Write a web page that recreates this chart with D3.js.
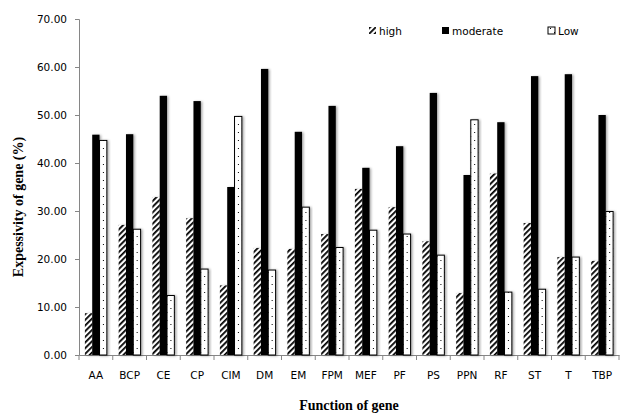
<!DOCTYPE html>
<html>
<head>
<meta charset="utf-8">
<script src="https://cdn.jsdelivr.net/npm/d3@7"></script>
<style>
  body { margin: 0; background: #fff; }
  .tick text { font-family: "DejaVu Sans", Verdana, sans-serif; font-size: 10.5px; fill: #000; }
  .legend text { font-family: "DejaVu Sans", Verdana, sans-serif; font-size: 10.5px; }
  .title { font-family: "Liberation Serif", "Times New Roman", serif; font-weight: bold; font-size: 14px; }
</style>
</head>
<body>
<script>
let categories = ['AA', 'BCP', 'CE', 'CP', 'CIM', 'DM', 'EM', 'FPM', 'MEF', 'PF', 'PS', 'PPN', 'RF', 'ST', 'T', 'TBP']
let seriesNames = ['high', 'moderate', 'Low']
let high = [8.7, 27.1, 32.9, 28.5, 14.5, 22.3, 22.1, 25.2, 34.6, 30.8, 23.7, 12.9, 37.8, 27.5, 20.4, 19.6]
let moderate = [45.9, 46.0, 54.0, 52.9, 35.0, 59.6, 46.5, 51.9, 39.0, 43.5, 54.6, 37.5, 48.5, 58.1, 58.5, 50.0]
let low = [44.7, 26.2, 12.4, 17.9, 49.7, 17.7, 30.8, 22.4, 26.0, 25.2, 20.8, 49.0, 13.1, 13.7, 20.4, 29.9]
let yTicks = [0, 10, 20, 30, 40, 50, 60, 70]

let margin = { top: 19, bottom: 64, left: 79, right: 5 }
let width = 624 - margin.left - margin.right
let height = 419 - margin.top - margin.bottom

let svg = d3.select('body')
    .append('svg')
        .attr('width', 624)
        .attr('height', 419)

let defs = svg.append('defs')

// diagonal hatch for "high"
let hatch = defs.append('pattern')
    .attr('id', 'hatch')
    .attr('patternUnits', 'userSpaceOnUse')
    .attr('width', 4)
    .attr('height', 4)
    .attr('patternTransform', 'rotate(45)')
hatch.append('rect').attr('width', 4).attr('height', 4).attr('fill', 'white')
hatch.append('rect').attr('x', 0).attr('width', 1.8).attr('height', 4).attr('fill', 'black')

// sparse dots for "Low"
let dots = defs.append('pattern')
    .attr('id', 'dots')
    .attr('patternUnits', 'userSpaceOnUse')
    .attr('width', 8)
    .attr('height', 8)
dots.append('rect').attr('width', 8).attr('height', 8).attr('fill', 'white')
dots.append('rect').attr('x', 2).attr('y', 1).attr('width', 1).attr('height', 1).attr('fill', 'black')
dots.append('rect').attr('x', 6).attr('y', 5).attr('width', 1).attr('height', 1).attr('fill', 'black')

defs.append('filter')
    .attr('id', 'shadow')
    .attr('x', '-50%').attr('y', '-10%').attr('width', '200%').attr('height', '120%')
  .append('feDropShadow')
    .attr('dx', 1.5).attr('dy', 0.5)
    .attr('stdDeviation', 0.8)
    .attr('flood-color', '#000')
    .attr('flood-opacity', 0.35)

let g = svg.append('g')
    .attr('transform', 'translate(' + margin.left + ',' + margin.top + ')')

let x0 = d3.scaleBand()
    .domain(categories)
    .range([0, width])
    .paddingInner(0.35)
    .paddingOuter(0.175)

let x1 = d3.scaleBand()
    .domain(seriesNames)
    .range([0, x0.bandwidth()])

let y = d3.scaleLinear()
    .domain([0, 70])
    .range([height, 0])

let fills = { high: 'url(#hatch)', moderate: 'black', Low: 'url(#dots)' }
let values = { high: high, moderate: moderate, Low: low }

let rows = categories.map((c, i) => ({
    cat: c,
    bars: seriesNames.map(s => ({ key: s, value: values[s][i] }))
}))

// y axis
let yAxis = g.append('g')
    .call(d3.axisLeft(y).tickValues(yTicks).tickFormat(d3.format('.2f')).tickSize(4).tickPadding(8))
yAxis.selectAll('path, line').attr('stroke', '#868686')

// x axis with ticks at band edges
let xAxis = g.append('g')
    .attr('transform', 'translate(0,' + height + ')')
    .call(d3.axisBottom(x0).tickSize(0).tickPadding(17))
xAxis.select('.domain').attr('stroke', '#868686')
xAxis.selectAll('.tick text').attr('dy', '0.71em')

let step = x0.step()
xAxis.selectAll('.edge')
    .data(d3.range(categories.length + 1))
    .enter()
    .append('line')
        .attr('x1', d => x0(categories[0]) - x0.paddingOuter() * step + d * step)
        .attr('x2', d => x0(categories[0]) - x0.paddingOuter() * step + d * step)
        .attr('y1', 0)
        .attr('y2', 5)
        .attr('stroke', '#868686')

// bars
let groups = g.selectAll('.group')
    .data(rows)
    .enter()
    .append('g')
        .attr('class', 'group')
        .attr('transform', d => 'translate(' + x0(d.cat) + ',0)')

groups.selectAll('rect')
    .data(d => d.bars)
    .enter()
    .append('rect')
        .attr('x', d => x1(d.key))
        .attr('y', d => y(d.value))
        .attr('width', x1.bandwidth())
        .attr('height', d => height - y(d.value))
        .attr('fill', d => fills[d.key])
        .attr('stroke', d => d.key === 'Low' ? 'black' : 'none')
        .attr('stroke-width', 1)
        .attr('filter', 'url(#shadow)')

// legend
let legendX = [369, 442, 548]
let legend = svg.append('g').attr('class', 'legend')
    .selectAll('g')
    .data(seriesNames)
    .enter()
    .append('g')
        .attr('transform', (d, i) => 'translate(' + legendX[i] + ',27)')
legend.append('rect')
    .attr('width', 7)
    .attr('height', 7)
    .attr('fill', d => fills[d])
    .attr('stroke', d => d === 'Low' ? 'black' : 'none')
legend.append('text')
    .attr('x', 10)
    .attr('y', 7.5)
    .text(d => d)

// axis titles
svg.append('text')
    .attr('class', 'title')
    .attr('transform', 'translate(23,' + (margin.top + height / 2 + 20) + ') rotate(-90)')
    .attr('text-anchor', 'middle')
    .text('Expessivity of gene (%)')

svg.append('text')
    .attr('class', 'title')
    .attr('x', margin.left + width / 2)
    .attr('y', 410)
    .attr('text-anchor', 'middle')
    .text('Function of gene')
</script>
</body>
</html>
